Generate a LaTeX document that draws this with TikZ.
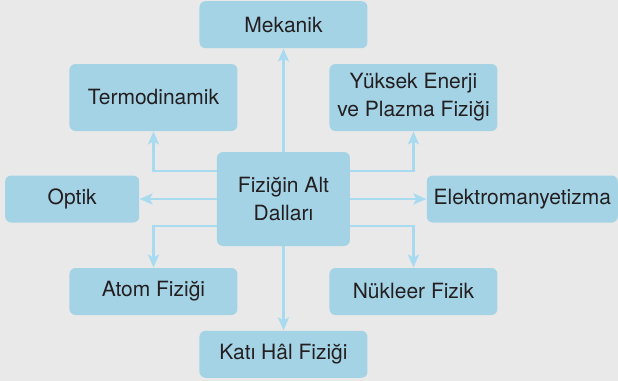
\documentclass[tikz,border=0pt]{standalone}
\usepackage{fontspec}
\setmainfont{TeX Gyre Heros}
\usepackage{xcolor}
\usetikzlibrary{arrows.meta,positioning}

\definecolor{boxblue}{RGB}{165,211,230}
\definecolor{lineblue}{RGB}{168,218,240}
\definecolor{bggray}{RGB}{233,233,233}
\definecolor{textgray}{RGB}{35,31,32}

\begin{document}
\begin{tikzpicture}[
  font=\fontsize{10.5}{14}\selectfont,
  box/.style={rectangle, rounded corners=3pt, fill=boxblue, text=textgray, align=center, inner sep=2pt, minimum width=84pt, minimum height=23.5pt},
  tallbox/.style={box, minimum height=33.5pt},
  mainbox/.style={box, minimum width=66.5pt, minimum height=47pt},
  arrow/.style={-{Stealth[length=6.5pt, width=5.5pt, inset=1.5pt]}, line width=1.2pt, draw=lineblue}
]

\fill[bggray] (-141.75pt,-91pt) rectangle (167.25pt,99.5pt);

\node[mainbox] (center) {Fiziğin Alt\\Dalları};
\node[box, above=51.5pt of center] (mekanik) {Mekanik};
\node[box, below=42pt of center] (kati) {Katı Hâl Fiziği};
\node[box, minimum width=67pt, left=38.5pt of center] (optik) {Optik};
\node[box, minimum width=95.5pt, right=38pt of center] (elektro) {Elektromanyetizma};
\node[tallbox, below=7.5pt of mekanik, xshift=-65pt] (termo) {Termodinamik};
\node[tallbox, below=7.5pt of mekanik, xshift=65pt] (yuksek) {Yüksek Enerji\\ve Plazma Fiziği};
\node[box, above=7.5pt of kati, xshift=-65pt] (atom) {Atom Fiziği};
\node[box, above=7.5pt of kati, xshift=65pt] (nukleer) {Nükleer Fizik};

\draw[arrow] (center) -- (mekanik);
\draw[arrow] (center) -- (kati);
\draw[arrow] (center) -- (optik);
\draw[arrow] (center) -- (elektro);
\draw[arrow] ([yshift=14pt]center.west) -| (termo);
\draw[arrow] ([yshift=14pt]center.east) -| (yuksek);
\draw[arrow] ([yshift=-13.5pt]center.west) -| (atom);
\draw[arrow] ([yshift=-13.5pt]center.east) -| (nukleer);

\end{tikzpicture}
\end{document}
